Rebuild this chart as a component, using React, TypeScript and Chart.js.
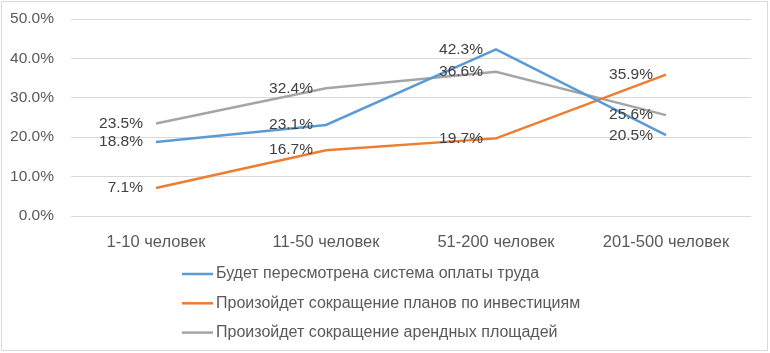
import React, { useEffect, useRef } from "react";
import { Chart, registerables } from "chart.js";

Chart.register(...registerables);

const categories = ["1-10 человек", "11-50 человек", "51-200 человек", "201-500 человек"];
const seriesNames = [
  "Будет пересмотрена система оплаты труда",
  "Произойдет сокращение планов по инвестициям",
  "Произойдет сокращение арендных площадей",
];
const payReview = [18.8, 23.1, 42.3, 20.5];
const investCut = [7.1, 16.7, 19.7, 35.9];
const rentCut = [23.5, 32.4, 36.6, 25.6];
const seriesColors = ["#5B9BD5", "#ED7D31", "#A5A5A5"];
const yTicks = [0, 10, 20, 30, 40, 50];

const FONT = "'Liberation Sans', Arial, sans-serif";

const labelsPlugin = {
  id: "pointLabels",
  afterDatasetsDraw(chart: any) {
    const ctx = chart.ctx;
    ctx.save();
    ctx.font = `15.5px ${FONT}`;
    ctx.fillStyle = "#404040";
    ctx.textAlign = "right";
    ctx.textBaseline = "middle";
    chart.data.datasets.forEach((ds: any, i: number) => {
      const meta = chart.getDatasetMeta(i);
      meta.data.forEach((pt: any, j: number) => {
        ctx.fillText(`${Number(ds.data[j]).toFixed(1)}%`, pt.x - 13, pt.y);
      });
    });
    ctx.restore();
  },
};

const legendPlugin = {
  id: "vertLegend",
  afterDraw(chart: any) {
    const ctx = chart.ctx;
    ctx.save();
    ctx.font = `16px ${FONT}`;
    ctx.textAlign = "left";
    ctx.textBaseline = "middle";
    const x0 = 182;
    const yStart = chart.chartArea.bottom + 58;
    chart.data.datasets.forEach((ds: any, i: number) => {
      const y = yStart + i * 29.3;
      ctx.strokeStyle = ds.borderColor;
      ctx.lineWidth = 2.5;
      ctx.beginPath();
      ctx.moveTo(x0, y);
      ctx.lineTo(x0 + 31, y);
      ctx.stroke();
      ctx.fillStyle = "#595959";
      ctx.fillText(ds.label, x0 + 34, y);
    });
    ctx.strokeStyle = "#D9D9D9";
    ctx.lineWidth = 1;
    ctx.strokeRect(1.5, 1.5, 766, 349);
    ctx.restore();
  },
};

const bgPlugin = {
  id: "bg",
  beforeDraw(chart: any) {
    const ctx = chart.ctx;
    ctx.save();
    ctx.fillStyle = "#FFFFFF";
    ctx.fillRect(0, 0, chart.width, chart.height);
    ctx.restore();
  },
};

export default function App() {
  const ref = useRef<HTMLCanvasElement | null>(null);
  useEffect(() => {
    document.body.style.margin = "0";
    const values = [payReview, investCut, rentCut];
    const chart = new Chart(ref.current as HTMLCanvasElement, {
      type: "line",
      data: {
        labels: categories,
        datasets: values.map((v, i) => ({
          label: seriesNames[i],
          data: v,
          borderColor: seriesColors[i],
          backgroundColor: seriesColors[i],
          borderWidth: 2.5,
          pointRadius: 0,
          tension: 0,
          fill: false,
        })),
      },
      options: {
        responsive: false,
        animation: false,
        layout: { padding: { top: 19, right: 19, bottom: 97, left: 0 } },
        plugins: {
          legend: { display: false },
          tooltip: { enabled: false },
        },
        scales: {
          x: {
            offset: true,
            grid: { display: false, drawTicks: false },
            border: { display: false },
            ticks: {
              color: "#595959",
              font: { family: FONT, size: 16.5 },
              padding: 17,
              maxRotation: 0,
            },
            afterFit(scale: any) {
              scale.height = 40;
              scale.paddingLeft = 0;
              scale.paddingRight = 0;
            },
          },
          y: {
            min: 0,
            max: 50,
            afterBuildTicks(scale: any) {
              scale.ticks = yTicks.map((v) => ({ value: v }));
            },
            grid: { color: "#D9D9D9", lineWidth: 1, drawTicks: false },
            border: { display: false },
            ticks: {
              color: "#595959",
              font: { family: FONT, size: 15.5 },
              padding: 17,
              callback: (v: any) => `${Number(v).toFixed(1)}%`,
            },
            afterFit(scale: any) {
              scale.width = 71;
              scale.paddingTop = 0;
              scale.paddingBottom = 0;
            },
          },
        },
      },
      plugins: [bgPlugin, labelsPlugin, legendPlugin],
    });
    return () => chart.destroy();
  }, []);
  return <canvas ref={ref} width={770} height={353} style={{ display: "block" }} />;
}
